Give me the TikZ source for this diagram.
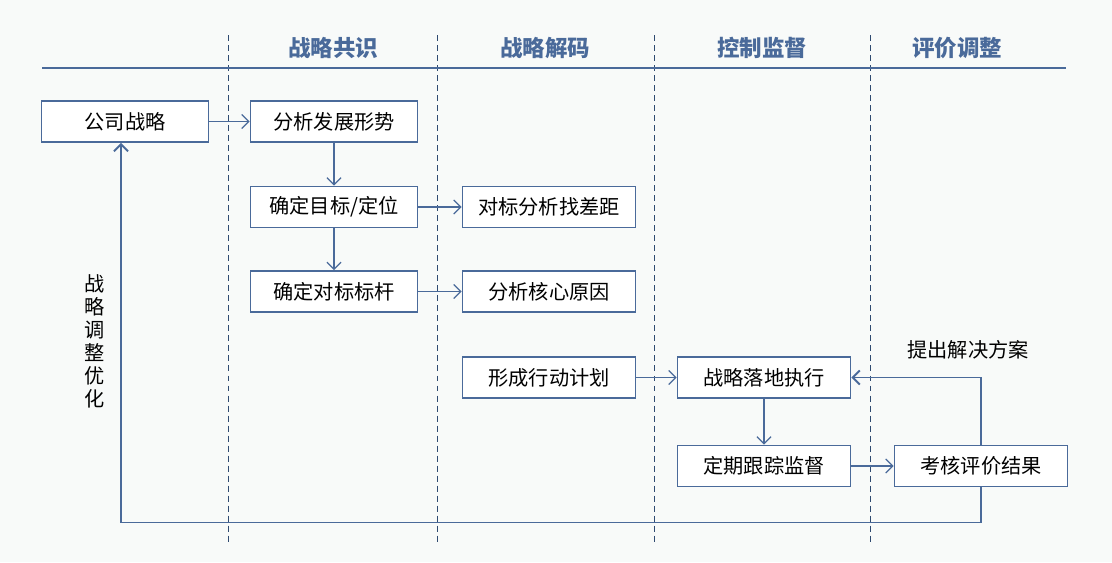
\documentclass[tikz,border=0pt]{standalone}
\usepackage{fontspec}
\setmainfont{Noto Sans CJK SC}
\usetikzlibrary{arrows.meta,positioning}
\definecolor{lineblue}{HTML}{4A6A9A}
\definecolor{dashblue}{HTML}{2F4A70}
\definecolor{bgcol}{HTML}{F8FAF9}

\begin{document}
\begin{tikzpicture}[x=0.02cm,y=-0.02cm,
		box/.style={draw=lineblue,line width=1.1pt,fill=white,minimum width=3.34cm,minimum height=0.82cm,inner sep=0pt,font=\fontsize{11.5pt}{13pt}\selectfont},
		widebox/.style={box,minimum width=3.46cm},
		head/.style={font=\bfseries\fontsize{12.8pt}{15pt}\selectfont,text=lineblue},
		flow/.style={draw=lineblue,line width=0.7pt,-{Straight Barb[length=1.4mm,width=2.8mm]}},
		back/.style={flow,line width=1.1pt}]
		\fill[bgcol] (0,0) rectangle (1112,562);
		\useasboundingbox (0,0) rectangle (1112,562);
		% lanes
		\foreach \x in {228,437,654,870}
			\draw[dashblue,line width=0.5pt,dash pattern=on 3.4pt off 2.3pt] (\x,35) -- (\x,543);
		\draw[lineblue,line width=1.5pt] (42,68) -- (1066,68);
		\node[head] (h1) at (333,48) {战略共识};
		\node[head] (h2) at (545,48) {战略解码};
		\node[head] (h3) at (762,48) {控制监督};
		\node[head] (h4) at (957,48) {评价调整};
		% boxes
		\node[box] (gs) at (125,121.5) {公司战略};
		\node[box] (fx) at (334,121.5) {分析发展形势};
		\node[box] (mb) at (334,207) {确定目标/定位};
		\node[widebox] (db) at (549,207) {对标分析找差距};
		\node[box] (bg) at (334,291.5) {确定对标标杆};
		\node[widebox] (yy) at (549,291.5) {分析核心原因};
		\node[widebox] (jh) at (549,377.5) {形成行动计划};
		\node[widebox] (zx) at (764,377.5) {战略落地执行};
		\node[widebox] (jd) at (764,466) {定期跟踪监督};
		\node[widebox] (kh) at (981,466) {考核评价结果};
		\node[font=\fontsize{11.5pt}{13pt}\selectfont] (fa) at (968,350) {提出解决方案};
		\node[align=center,inner sep=0pt,font=\fontsize{11.5pt}{13.1pt}\selectfont] (yh) at (95,341) {战\\略\\调\\整\\优\\化};
		% arrows
		\draw[flow] (gs) -- (fx);
		\draw[flow] (fx) -- (mb);
		\draw[flow] (mb) -- (db);
		\draw[flow] (mb) -- (bg);
		\draw[flow] (bg) -- (yy);
		\draw[flow] (jh) -- (zx);
		\draw[flow] (zx) -- (jd);
		\draw[flow] (jd) -- (kh);
		\draw[back] (kh.north) |- (zx.east);
		\draw[back] (kh.south) -- ++(0,35) -| ([xshift=-0.08cm]gs.south);
	\end{tikzpicture}
\end{document}
